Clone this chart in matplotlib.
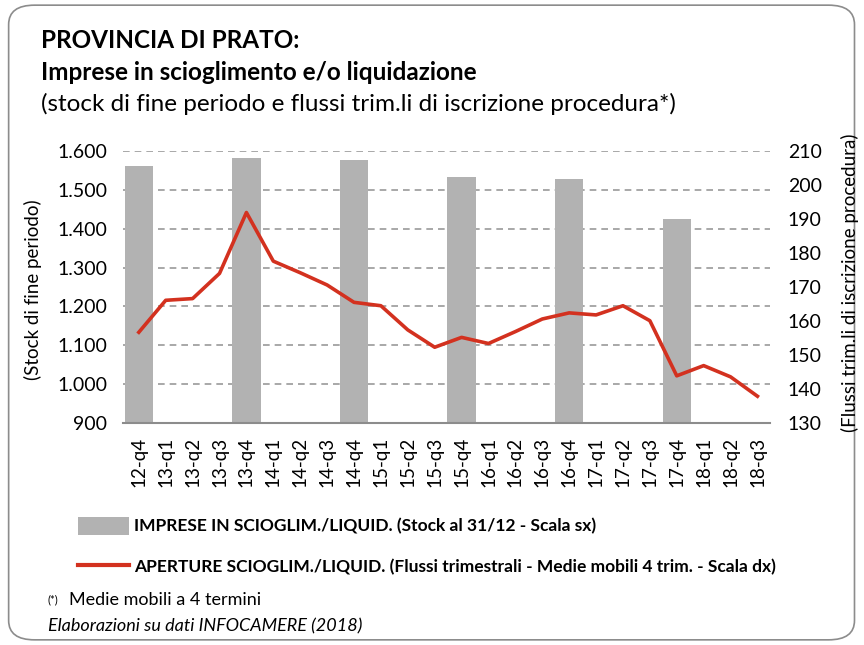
import matplotlib.pyplot as plt
from matplotlib.patches import FancyBboxPatch, Patch
from matplotlib.lines import Line2D
from matplotlib.ticker import FuncFormatter

plt.rcParams['font.family'] = ['Lato', 'DejaVu Sans']

# periods (quarters)
periodi = ['12-q4', '13-q1', '13-q2', '13-q3', '13-q4', '14-q1', '14-q2', '14-q3',
           '14-q4', '15-q1', '15-q2', '15-q3', '15-q4', '16-q1', '16-q2', '16-q3',
           '16-q4', '17-q1', '17-q2', '17-q3', '17-q4', '18-q1', '18-q2', '18-q3']

# stock at 31/12 (left scale)
stock_periodi = ['12-q4', '13-q4', '14-q4', '15-q4', '16-q4', '17-q4']
stock = [1561, 1581, 1576, 1534, 1529, 1426]

# moving average of quarterly flows (right scale)
aperture = [156.7, 166.1, 166.6, 174.0, 191.9, 177.6, 174.2, 170.6,
            165.5, 164.5, 157.4, 152.3, 155.2, 153.4, 156.9, 160.6,
            162.4, 161.8, 164.5, 160.1, 143.9, 146.9, 143.6, 137.9]

x = list(range(len(periodi)))
xb = [periodi.index(p) for p in stock_periodi]

fig = plt.figure(figsize=(8.64, 6.45), dpi=100)

# rounded frame
frame = FancyBboxPatch((0.01, 0.008), 0.979, 0.984, boxstyle="round,pad=0,rounding_size=0.03",
                       transform=fig.transFigure, fill=False, edgecolor='#8c8c8c', lw=1.2)
fig.patches.append(frame)

ax = fig.add_axes([0.142, 0.344, 0.749, 0.422])
ax.bar(xb, stock, width=1.05, color='#b2b2b2', zorder=2)
ax.set_ylim(900, 1600)
ax.set_xlim(-0.6, 23.46)
ax.set_yticks(range(900, 1601, 100))
ax.yaxis.set_major_formatter(FuncFormatter(lambda v, p: f'{int(v):,}'.replace(',', '.')))
ax.set_xticks(x)
ax.set_xticklabels(periodi, rotation=90, fontsize=13.5)
ax.tick_params(axis='y', labelsize=14, length=0, pad=11)
ax.tick_params(axis='x', length=0, pad=10)
ax.grid(axis='y', linestyle=(0, (4, 3)), color='#9a9a9a', lw=1.2, zorder=0)
for s in ['top', 'left', 'right']:
    ax.spines[s].set_visible(False)
ax.spines['bottom'].set_color('#8c8c8c')
ax.spines['bottom'].set_linewidth(1.5)

ax2 = ax.twinx()
ax2.plot(x, aperture, color='#d3311f', lw=2.6, zorder=3)
ax2.set_ylim(130, 210)
ax2.set_yticks(range(130, 211, 10))
ax2.tick_params(axis='y', labelsize=14, length=0, pad=13)
for s in ['top', 'left', 'right', 'bottom']:
    ax2.spines[s].set_visible(False)

# axis titles
fig.text(33 / 864, 1 - 290 / 645, '(Stock di fine periodo)', fontsize=13.5, rotation=90,
         ha='center', va='center')
fig.text(850 / 864, 1 - 283 / 645, '(Flussi trim.li di iscrizione procedura)', fontsize=13.5,
         rotation=90, ha='center', va='center')

# titles
fig.text(0.047, 1 - 41 / 645, 'PROVINCIA DI PRATO:', fontsize=17.5, fontweight='bold', va='center')
fig.text(0.047, 1 - 72 / 645, 'Imprese in scioglimento e/o liquidazione', fontsize=17.5,
         fontweight='bold', va='center')
fig.text(0.047, 1 - 104 / 645, '(stock di fine periodo e flussi trim.li di iscrizione procedura*)',
         fontsize=17.5, va='center')

# legend
handles = [Patch(facecolor='#b2b2b2', edgecolor='none'),
           Line2D([0], [0], color='#d3311f', lw=3)]
labels = ['IMPRESE IN SCIOGLIM./LIQUID. (Stock al 31/12 - Scala sx)',
          'APERTURE SCIOGLIM./LIQUID. (Flussi trimestrali - Medie mobili 4 trim. - Scala dx)']
fig.legend(handles, labels, loc='center left', bbox_to_anchor=(0.09, 1 - 546 / 645), frameon=False,
           prop={'size': 12.5, 'weight': 'bold'}, handlelength=2.95, handleheight=1.2,
           handletextpad=0.3, labelspacing=1.3, borderpad=0, borderaxespad=0)

fig.text(0.055, 1 - 600 / 645, '(*)', fontsize=8, va='center')
fig.text(0.08, 1 - 600 / 645, 'Medie mobili a 4 termini', fontsize=13, va='center')
fig.text(0.055, 1 - 626 / 645, 'Elaborazioni su dati INFOCAMERE (2018)', fontsize=13,
         style='italic', va='center')

fig.savefig('out.png', dpi=100)
